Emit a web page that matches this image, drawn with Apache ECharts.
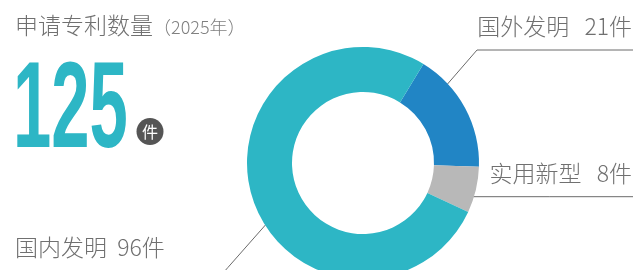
<!DOCTYPE html>
<html><head><meta charset="utf-8">
<script src="https://cdn.jsdelivr.net/npm/echarts@6/dist/echarts.min.js"></script>
<style>html,body{margin:0;padding:0;background:#fff}#c{width:642px;height:270px}</style>
</head><body><div id="c"></div>
<script>
// ---- data ----
const categories = ['国外发明', '实用新型', '国内发明'];
const values = [21, 8, 96];
const totalValue = 125;
const unitText = '件';
const titleText = '申请专利数量';
const yearText = '（2025年）';

// ---- style / layout ----
const colors = ['#2185C5', '#B8B8B8', '#2DB6C5'];
const CX = 363, CY = 163, R_IN = 71, R_OUT = 116;
const START_CW = 31.4; // degrees clockwise from 12 o'clock
const FONT = '"Noto Sans CJK SC","Noto Sans",sans-serif';
const labelStyle = [
  {gap: '   ', x: 632, y: 26, align: 'right', frac: 0.29, r: 87, line: 'elbow', lineY: 50, elbowX: 477, endX: 633},
  {gap: '   ', x: 632, y: 173, align: 'right', frac: 0.7, r: 109, line: 'flat', endX: 633},
  {gap: '  ', x: 15, y: 247, align: 'left', frac: 0.45, r: 104.5, line: 'ray', rayDx: -45.3, rayDy: 51.3}
];

const chart = echarts.init(document.getElementById('c'), null, {renderer: 'canvas'});

function anchorPoint(i) {
  let cum = 0;
  for (let k = 0; k < i; k++) cum += values[k];
  const sum = values.reduce((a, b) => a + b, 0);
  const a = (START_CW + (cum + labelStyle[i].frac * values[i]) / sum * 360) * Math.PI / 180;
  const r = labelStyle[i].r;
  return [CX + r * Math.sin(a), CY - r * Math.cos(a)];
}

chart.setOption({
  animation: false,
  graphic: [
    {
      type: 'text', left: 15, top: 14,
      style: {
        text: '{a|' + titleText + '}{b|' + yearText + '}',
        rich: {
          a: {fontSize: 23, fontWeight: 300, fontFamily: FONT, fill: '#707070', verticalAlign: 'bottom'},
          b: {fontSize: 18, fontWeight: 300, fontFamily: FONT, fill: '#808080', verticalAlign: 'bottom', padding: [0, 0, 1, 0]}
        }
      }
    },
    {
      type: 'text', x: 13, y: 113, scaleX: 0.56, originX: 0,
      style: {
        text: String(totalValue), x: 0, y: 0, align: 'left', verticalAlign: 'middle',
        fontSize: 123, fontWeight: 'bold', fontFamily: '"Liberation Sans Narrow","Liberation Sans",sans-serif',
        fill: '#2DB6C5'
      }
    },
    {
      type: 'circle', shape: {cx: 150, cy: 131.5, r: 13.5},
      style: {fill: '#555555'}
    },
    {
      type: 'text', x: 150, y: 131.5,
      style: {text: unitText, align: 'center', verticalAlign: 'middle', fontSize: 16, fontFamily: FONT, fill: '#ffffff'}
    }
  ],
  series: [{
    type: 'pie',
    center: [CX, CY],
    radius: [R_IN, R_OUT],
    startAngle: 90 - START_CW,
    clockwise: true,
    avoidLabelOverlap: false,
    silent: true,
    data: categories.map((n, i) => ({name: n, value: values[i], itemStyle: {color: colors[i]}})),
    label: {
      show: true, position: 'outside',
      formatter: p => p.name + labelStyle[p.dataIndex].gap + p.value + unitText,
      fontSize: 23, fontWeight: 300, fontFamily: FONT, color: '#707070'
    },
    labelLine: {show: true, lineStyle: {color: '#6a6a6a', width: 1}},
    labelLayout: function (p) {
      const s = labelStyle[p.dataIndex];
      const st = anchorPoint(p.dataIndex);
      let pts;
      if (s.line === 'elbow') pts = [st, [s.elbowX, s.lineY], [s.endX, s.lineY]];
      else if (s.line === 'flat') pts = [st, [(st[0] + s.endX) / 2, st[1]], [s.endX, st[1]]];
      else pts = [st, [st[0] + s.rayDx, st[1] + s.rayDy], [st[0] + s.rayDx * 2, st[1] + s.rayDy * 2]];
      return {x: s.x, y: s.y, align: s.align, verticalAlign: 'middle', labelLinePoints: pts};
    }
  }]
});
</script></body></html>
